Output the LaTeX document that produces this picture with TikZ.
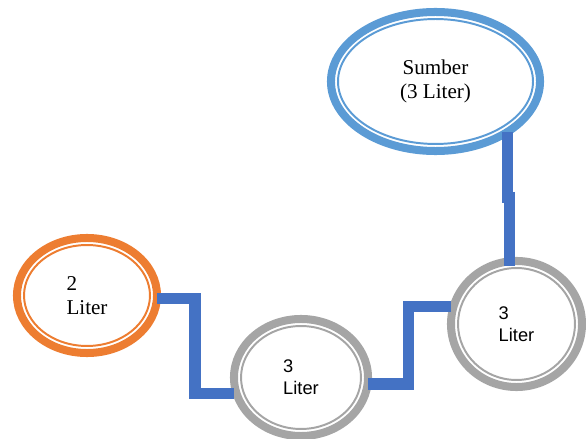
\documentclass[tikz,border=0pt]{standalone}
\usepackage{fontspec}
\setmainfont{Liberation Serif}
\setsansfont{Liberation Sans}
\usetikzlibrary{shapes.geometric,calc}

\definecolor{ringblue}{HTML}{5B9BD5}
\definecolor{ringorange}{HTML}{ED7D31}
\definecolor{ringgray}{HTML}{A5A5A5}
\definecolor{pipeblue}{HTML}{4472C4}

\begin{document}
\begin{tikzpicture}[x=0.025cm,y=-0.025cm,
  tank/.style={ellipse,draw=#1,line width=5.7pt,inner sep=0pt,outer sep=0pt,
    align=left,
    path picture={\draw[#1,line width=1.4pt]
      let \p1=($(path picture bounding box.north east)-(path picture bounding box.center)$)
      in (path picture bounding box.center) ellipse [x radius=\x1-5pt,y radius=\y1-5pt];}},
  serif/.style={font=\fontsize{15pt}{17pt}\selectfont},
  sans/.style={font=\sffamily\fontsize{13pt}{15.6pt}\selectfont},
  pipe/.style={pipeblue,line width=8.5pt}]
  \useasboundingbox (0,0) rectangle (586,439);

  % the jars
  \node[tank=ringblue,serif,align=center,minimum width=5.225cm,minimum height=3.475cm]
    (sumber) at (435.5,81.5) {Sumber\\(3 Liter)};
  \node[tank=ringorange,serif,minimum width=3.5cm,minimum height=2.875cm]
    (twoL) at (87,295.5) {2\\Liter};
  \node[tank=ringgray,sans,minimum width=3.35cm,minimum height=2.925cm]
    (threeA) at (301,377.5) {3\\Liter};
  \node[tank=ringgray,sans,minimum width=3.275cm,minimum height=3.15cm]
    (threeB) at (516.5,324) {3\\Liter};

  % pipe bends
  \coordinate (k1) at (195,298.5);
  \coordinate (k2) at (195,393.5);
  \coordinate (k3) at (408.5,384);
  \coordinate (k4) at (408.5,306.5);
  \coordinate (d1) at (507.5,203);
  \coordinate (d2) at (509.5,192);

  \draw[pipe] (twoL.east |- k1) -- (k1) -- (k2) -- (k2 -| threeA.west);
  \draw[pipe] (threeA.east |- k3) -- (k3) -- (k4) -- (k4 -| threeB.west);
  \draw[pipe,shorten >=-3.5pt] (d1 |- sumber.-35) -- (d1) (d2) -- (d2 |- threeB.north);
\end{tikzpicture}
\end{document}
